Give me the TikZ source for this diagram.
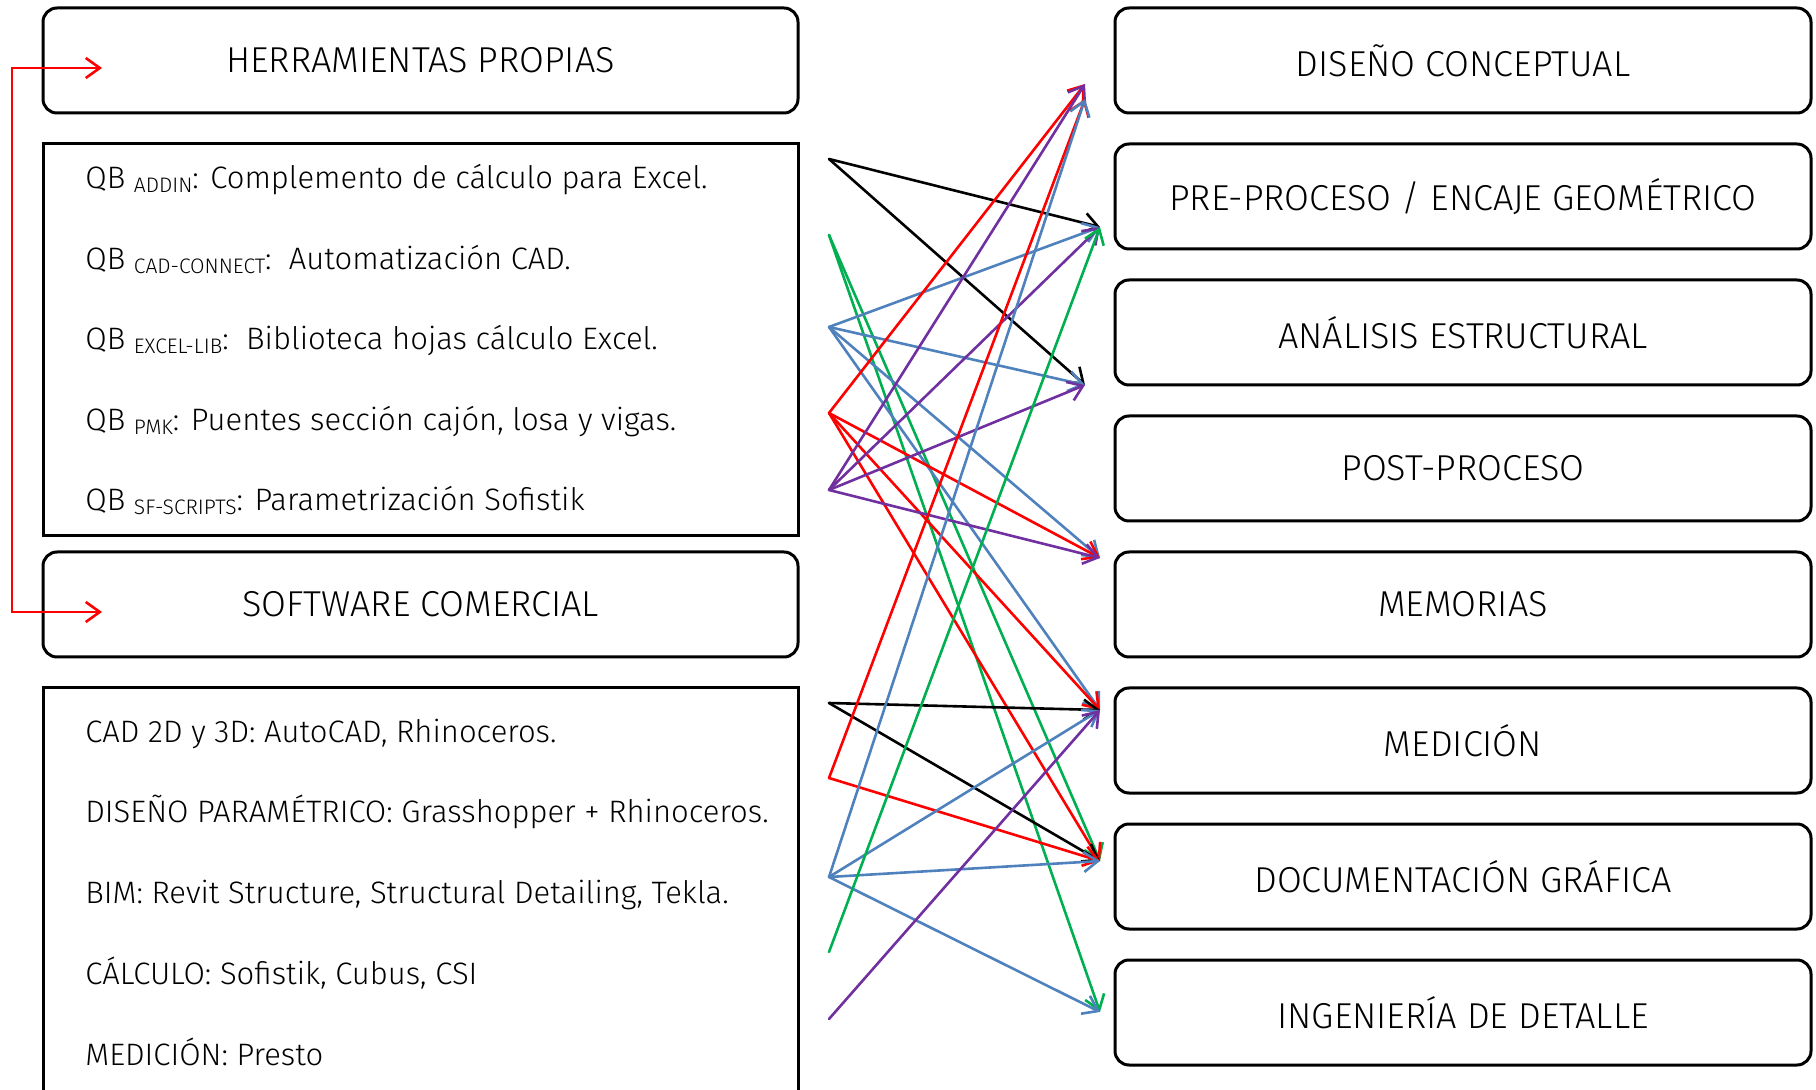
\documentclass[tikz,border=0pt]{standalone}
\usepackage{fontspec}
\setmainfont{Fira Sans}[UprightFont={* Light}]
\usepackage{tikz}
\usetikzlibrary{positioning,arrows.meta}

\definecolor{linkred}{RGB}{255,0,0}
\definecolor{linkgreen}{RGB}{0,176,80}
\definecolor{linkblue}{RGB}{79,129,189}
\definecolor{linkpurple}{RGB}{112,48,160}

\newcommand{\qbsub}[1]{\raisebox{-2pt}{\fontsize{10.5pt}{10.5pt}\selectfont #1}}

\begin{document}
\begin{tikzpicture}[
x=0.5pt, y=-0.5pt,
node distance=15.5pt,
head/.style={draw, line width=1.5pt, rounded corners=7pt, outer sep=0pt, inner sep=0pt, minimum width=377.5pt, minimum height=52.5pt, font=\fontsize{18pt}{21pt}\selectfont},
phase/.style={head, minimum width=348pt},
listbox/.style={draw, line width=1.5pt, outer sep=0pt, inner sep=0pt, minimum width=377.5pt},
item/.style={anchor=base west, inner sep=0pt, font=\fontsize{15.5pt}{18pt}\selectfont},
link/.style={-{Straight Barb[length=7pt,width=10pt]}, line width=1.3pt, line cap=round, line join=round},
bracket/.style={{Straight Barb[length=7pt,width=10pt]}-{Straight Barb[length=7pt,width=10pt]}, line width=1.3pt, linkred}
]
\useasboundingbox (0,0) rectangle (1816,1090);

% left column
\node[head] (propias) at (420.5,60.5) {HERRAMIENTAS PROPIAS};
\node[listbox, minimum height=196pt, below=of propias] (qblist) {};
\node[head, below=8pt of qblist] (comercial) {SOFTWARE COMERCIAL};
\node[listbox, minimum height=215pt, below=of comercial] (softlist) {};

\node[item] (qbaddin) at (85,189) {QB \qbsub{ADDIN}: Complemento de cálculo para Excel.};
\node[item] (qbcad) at (85,270) {QB \qbsub{CAD-CONNECT}:\ \ Automatización CAD.};
\node[item] (qbexcel) at (85,350) {QB \qbsub{EXCEL-LIB}:\ \ Biblioteca hojas cálculo Excel.};
\node[item] (qbpmk) at (85,431) {QB \qbsub{PMK}: Puentes sección cajón, losa y vigas.};
\node[item] (qbsf) at (85,511) {QB \qbsub{SF-SCRIPTS}: Parametrización Sofistik};

\node[item] (swcad) at (85,742) {CAD 2D y 3D: AutoCAD, Rhinoceros.};
\node[item] (swparam) at (85,822) {DISEÑO PARAMÉTRICO: Grasshopper + Rhinoceros.};
\node[item] (swbim) at (85,903) {BIM: Revit Structure, Structural Detailing, Tekla.};
\node[item] (swcalc) at (85,984) {CÁLCULO: Sofistik, Cubus, CSI};
\node[item] (swmed) at (85,1065) {MEDICIÓN: Presto};

% right column
\node[phase] (conceptual) at (1463,60.5) {DISEÑO CONCEPTUAL};
\node[phase, below=of conceptual] (preproceso) {PRE-PROCESO / ENCAJE GEOMÉTRICO};
\node[phase, below=of preproceso] (analisis) {ANÁLISIS ESTRUCTURAL};
\node[phase, below=of analisis] (postproceso) {POST-PROCESO};
\node[phase, below=of postproceso] (memorias) {MEMORIAS};
\node[phase, below=of memorias] (medicion) {MEDICIÓN};
\node[phase, below=of medicion] (documentacion) {DOCUMENTACIÓN GRÁFICA};
\node[phase, below=of documentacion] (ingenieria) {INGENIERÍA DE DETALLE};

% bracket between the two headings
\coordinate (propin) at (102,68);
\coordinate (comin) at (102,612);
\draw[bracket] (propin) -- ++(-90,0) |- (comin);

% link ends
\coordinate (addin) at (829,159);
\coordinate (cadcon) at (829,235);
\coordinate (excellib) at (829,327);
\coordinate (pmk) at (829,413);
\coordinate (sfscripts) at (829,490);
\coordinate (cad) at (829,703);
\coordinate (param) at (829,778);
\coordinate (bim) at (829,877);
\coordinate (calc) at (829,952);
\coordinate (medi) at (829,1019);

\coordinate (toconc) at (1085,84);
\coordinate (toconcb) at (1085,99);
\coordinate (topre) at (1100,227);
\coordinate (toana) at (1085,385);
\coordinate (tomem) at (1100,558);
\coordinate (tomed) at (1100,710);
\coordinate (todoc) at (1100,861);
\coordinate (toing) at (1100,1012);

% links
\draw[link] (addin) -- (topre);
\draw[link] (addin) -- (toana);
\draw[link, linkgreen] (cadcon) -- (todoc);
\draw[link, linkgreen] (cadcon) -- (toing);
\draw[link, linkblue] (excellib) -- (topre);
\draw[link, linkblue] (excellib) -- (toana);
\draw[link, linkblue] (excellib) -- (tomem);
\draw[link, linkblue] (excellib) -- (tomed);
\draw[link, linkred] (pmk) -- (toconc);
\draw[link, linkred] (pmk) -- (tomem);
\draw[link, linkred] (pmk) -- (tomed);
\draw[link, linkred] (pmk) -- (todoc);
\draw[link, linkpurple] (sfscripts) -- (toconc);
\draw[link, linkpurple] (sfscripts) -- (topre);
\draw[link, linkpurple] (sfscripts) -- (toana);
\draw[link, linkpurple] (sfscripts) -- (tomem);
\draw[link] (cad) -- (tomed);
\draw[link] (cad) -- (todoc);
\draw[link, linkred] (param) -- (toconcb);
\draw[link, linkred] (param) -- (todoc);
\draw[link, linkblue] (bim) -- (toconcb);
\draw[link, linkblue] (bim) -- (tomed);
\draw[link, linkblue] (bim) -- (todoc);
\draw[link, linkblue] (bim) -- (toing);
\draw[link, linkgreen] (calc) -- (topre);
\draw[link, linkpurple] (medi) -- (tomed);
\end{tikzpicture}
\end{document}
